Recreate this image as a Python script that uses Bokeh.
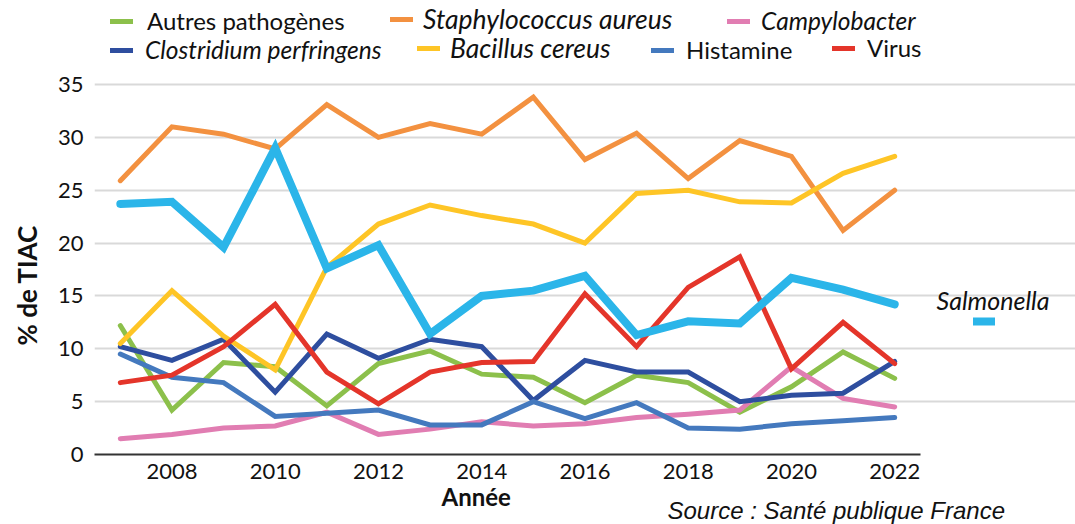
from bokeh.plotting import figure
from bokeh.models import Legend, LegendItem, Label, FixedTicker, Range1d, Title
from bokeh.embed import file_html
from bokeh.resources import INLINE

years = list(range(2007, 2023))

autres = [12.2, 4.2, 8.7, 8.3, 4.6, 8.6, 9.8, 7.6, 7.3, 4.9, 7.5, 6.8, 4.0, 6.4, 9.7, 7.2]
staph = [25.9, 31.0, 30.3, 28.9, 33.1, 30.0, 31.3, 30.3, 33.8, 27.9, 30.4, 26.1, 29.7, 28.2, 21.2, 25.0]
campy = [1.5, 1.9, 2.5, 2.7, 4.0, 1.9, 2.4, 3.1, 2.7, 2.9, 3.5, 3.8, 4.2, 8.3, 5.3, 4.5]
clostridium = [10.2, 8.9, 10.9, 5.9, 11.4, 9.1, 10.9, 10.2, 5.1, 8.9, 7.8, 7.8, 5.0, 5.6, 5.8, 8.8]
bacillus = [10.5, 15.5, 11.2, 8.0, 17.7, 21.8, 23.6, 22.6, 21.8, 20.0, 24.7, 25.0, 23.9, 23.8, 26.6, 28.2]
histamine = [9.5, 7.3, 6.8, 3.6, 3.9, 4.2, 2.8, 2.8, 5.0, 3.4, 4.9, 2.5, 2.4, 2.9, 3.2, 3.5]
virus = [6.8, 7.5, 10.2, 14.2, 7.8, 4.8, 7.8, 8.7, 8.8, 15.2, 10.2, 15.8, 18.7, 8.1, 12.5, 8.6]
salmonella = [23.7, 23.9, 19.6, 29.0, 17.6, 19.8, 11.4, 15.0, 15.5, 16.9, 11.3, 12.6, 12.4, 16.7, 15.6, 14.2]

y_ticks = [0, 5, 10, 15, 20, 25, 30, 35]
x_ticks = [2008, 2010, 2012, 2014, 2016, 2018, 2020, 2022]

series = [
    ("Autres pathogènes", autres, "#8CC04B", "normal"),
    ("Staphylococcus aureus", staph, "#F39140", "italic"),
    ("Campylobacter", campy, "#E17DB2", "italic"),
    ("Clostridium perfringens", clostridium, "#2E4E9F", "italic"),
    ("Bacillus cereus", bacillus, "#FEC526", "italic"),
    ("Histamine", histamine, "#4479BE", "normal"),
    ("Virus", virus, "#E4352A", "normal"),
    ("Salmonella", salmonella, "#2BB5E9", "italic"),
]

FONT = "Lato"
TXT = "#111111"

# layout: the frame spans the whole canvas right/top so legends fit inside it
W, H = 1075, 524
LEFT, BOTTOM = 94, 70
frame_w = W - LEFT
frame_h = H - BOTTOM
px_per_year = 826 / 16.0
px_per_unit = 370 / 35.0
x0 = years[0] - 0.5
x1 = years[-1] + 0.5
x_end = x0 + frame_w / px_per_year
y_end = frame_h / px_per_unit

p = figure(width=W, height=H, output_backend="svg", toolbar_location=None,
           x_range=Range1d(x0, x_end), y_range=Range1d(0, y_end),
           min_border_left=LEFT, min_border_right=0, min_border_top=0,
           min_border_bottom=BOTTOM)
p.outline_line_color = None
p.background_fill_color = "white"
p.xgrid.grid_line_color = None
p.ygrid.grid_line_color = "#D9D9D9"
p.ygrid.grid_line_width = 2
p.ygrid.ticker = FixedTicker(ticks=y_ticks[1:])
p.ygrid.bounds = (x0, x1)

p.xaxis.ticker = FixedTicker(ticks=x_ticks)
p.xaxis.bounds = (x0, x1)
p.yaxis.ticker = FixedTicker(ticks=y_ticks)
for ax in (p.xaxis[0], p.yaxis[0]):
    ax.major_tick_line_color = None
    ax.minor_tick_line_color = None
    ax.major_label_text_font = FONT
    ax.major_label_text_font_size = "22px"
    ax.major_label_text_color = TXT
p.yaxis.axis_line_color = None
p.xaxis.axis_line_color = "#333333"
p.xaxis.axis_line_width = 2
p.yaxis.major_label_standoff = 5
p.xaxis.major_label_standoff = 3

renderers = {}
for name, vals, color, style in series:
    w = 8 if name == "Salmonella" else 5
    r = p.line(years, vals, line_color=color, line_width=w,
               line_cap="round", line_join="miter")
    renderers[name] = r

legend_pos = {
    "Autres pathogènes": (16, 419, "24px", 14),
    "Staphylococcus aureus": (296, 419, "26.5px", 10),
    "Campylobacter": (633, 419, "24.5px", 11),
    "Clostridium perfringens": (16, 390, "24.5px", 12),
    "Bacillus cereus": (323, 390, "26.5px", 10),
    "Histamine": (557, 390, "24px", 12),
    "Virus": (738, 392, "24px", 12),
}
for name, vals, color, style in series:
    if name not in legend_pos:
        continue
    lx, ly, fs, gap = legend_pos[name]
    lg = Legend(items=[LegendItem(label=name, renderers=[renderers[name]])],
                location=(lx, ly), orientation="horizontal",
                label_text_font=FONT, label_text_font_size=fs,
                label_text_font_style=style, label_text_color=TXT,
                glyph_width=23, glyph_height=20, label_height=20,
                label_standoff=gap, padding=0, margin=0, spacing=0,
                border_line_color=None, background_fill_alpha=0)
    p.add_layout(lg)

# Salmonella: label above its swatch
sal_lg = Legend(items=[LegendItem(label=" ", renderers=[renderers["Salmonella"]])],
                location=(879, 123), glyph_width=22, glyph_height=20, label_height=20,
                label_standoff=0, padding=0, margin=0, spacing=0,
                label_text_font_size="4px",
                border_line_color=None, background_fill_alpha=0)
p.add_layout(sal_lg)
p.add_layout(Label(x=842, y=155, x_units="screen", y_units="screen", text="Salmonella",
                   text_font=FONT, text_font_size="25px", text_font_style="italic",
                   text_color=TXT, text_baseline="middle", text_align="left"))

p.add_layout(Title(text="% de TIAC", align="left", vertical_align="top", offset=109,
                   standoff=20, text_font=FONT, text_font_size="26px",
                   text_font_style="bold", text_color=TXT), "left")
p.add_layout(Title(text="Année", align="left", offset=347, standoff=-4,
                   text_font=FONT, text_font_size="24px", text_font_style="bold",
                   text_color=TXT), "below")
p.add_layout(Title(text="Source : Santé publique France", align="left", offset=573,
                   standoff=-27, text_font="Liberation Sans", text_font_size="24px",
                   text_font_style="italic", text_color=TXT), "below")

open("out.html", "w").write(file_html(p, INLINE))
